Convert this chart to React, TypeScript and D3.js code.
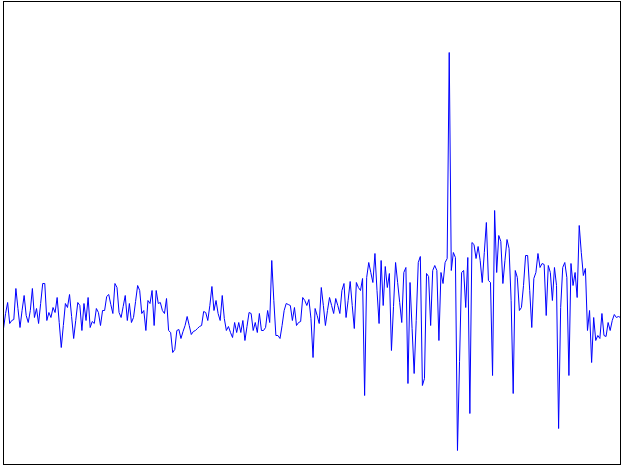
import { useEffect, useRef } from 'react';
import * as d3 from 'd3';

// signal values, one per sample
const signal: number[] = [
  -0.8, 0.7, 1.8, -0.3, 0.0, 0.1, 3.2, 1.2, -0.7, 1.0,
  2.5, 0.5, -0.2, 1.0, 3.2, 0.3, 1.2, -0.3, 1.7, 3.7,
  3.7, 0.0, 0.8, 0.3, 1.3, 0.8, 2.3, -0.2, -2.7, -0.5,
  1.7, 1.3, 2.6, 0.4, -1.8, 0.0, 1.8, 1.5, -1.0, 1.7,
  0.0, 2.3, -0.7, -0.1, -0.3, 1.2, 0.8, -0.5, 1.0, 1.0,
  2.4, 2.6, 1.6, 0.7, 3.7, 3.3, 0.8, 0.3, 1.4, 2.5,
  0.0, 1.7, -0.2, 0.3, 1.9, 3.5, 3.0, 0.7, 1.0, -1.0,
  2.0, 1.7, 3.0, -0.5, 3.0, 1.7, 1.8, 1.0, 0.7, 2.2,
  -1.0, -1.2, -3.2, -2.9, -1.0, -0.9, -1.8, -1.1, -0.5, 0.4,
  -0.5, -1.4, -1.1, -1.0, -0.8, -0.6, -0.5, 0.9, 0.8, 0.0,
  1.5, 3.4, 1.0, 2.0, 0.7, 0.0, 2.5, 0.2, -1.0, -0.6,
  -1.2, -1.7, -0.2, -1.2, -0.2, -1.2, 0.0, -2.0, -0.6, 0.8,
  0.7, -1.0, -0.2, -1.2, 0.7, -1.0, -1.0, -0.7, 1.0, -0.2,
  6.0, 2.0, -1.5, -1.5, -1.8, -0.5, 1.0, 1.7, 1.6, 1.5,
  0.0, 1.3, -0.5, -0.2, -0.1, 2.3, 2.0, 1.5, 2.1, 0.2,
  -3.7, 1.2, 0.5, -0.3, 3.3, 1.5, -0.5, 1.0, 2.3, 1.5,
  0.7, 2.2, 1.5, 0.7, 3.0, 3.7, 0.3, 2.0, 3.9, 1.5,
  -0.8, 3.8, 3.3, 3.0, 4.2, -7.5, 4.3, 5.8, 4.8, 3.8,
  6.7, 3.0, -0.3, 6.0, 1.5, 5.4, 3.3, 4.7, -3.0, 1.4,
  5.8, 3.8, 1.8, -0.2, 4.8, 5.3, -6.3, 3.8, -0.8, -5.3,
  0.0, 5.8, 6.4, -6.5, -5.8, 4.7, 4.4, -0.5, 5.0, 5.5,
  5.0, -2.0, 4.8, 3.7, 5.8, 6.2, 26.8, 5.0, 6.8, 6.3,
  -13.0, -4.1, 4.8, 5.0, 1.3, 6.3, -9.3, 7.8, 7.6, 6.2,
  7.4, 6.0, 3.8, 6.8, 9.8, 4.0, 3.8, -5.5, 11.0, 4.8,
  8.5, 7.9, 3.7, 6.0, 8.1, 7.2, 2.0, -7.3, 5.0, 4.3,
  1.0, 1.3, 3.5, 6.5, 6.5, 3.0, -0.7, 4.2, 4.8, 6.7,
  5.3, 5.7, 5.6, 0.5, 5.5, 4.8, 2.0, 5.3, 3.5, -10.8,
  1.3, 5.3, 5.8, 4.3, -5.5, 5.7, 3.5, 4.8, 2.3, 9.5,
  6.8, 4.5, 5.2, -1.0, 1.0, -4.2, 0.3, -2.0, -1.5, -1.8,
  0.7, -1.5, -1.6, -0.2, -1.0, 0.0, 0.6, 0.3, 0.4, 0.3,
];

const yLimits: [number, number] = [-14.4, 31.9];

function App() {
  const svgRef = useRef<SVGSVGElement>(null);

  useEffect(() => {
    const width = 623;
    const height = 467;
    const frame = { left: 3.5, right: 620.5, top: 1.5, bottom: 464.5 };

    const svg = d3.select(svgRef.current);
    svg.selectAll('*').remove();
    svg.attr('width', width).attr('height', height);

    const x = d3.scaleLinear()
      .domain([0, signal.length - 1])
      .range([frame.left, frame.right]);

    const y = d3.scaleLinear()
      .domain(yLimits)
      .range([frame.bottom, frame.top]);

    const line = d3.line<number>()
      .x((_, i) => x(i))
      .y(d => y(d));

    svg.append('path')
      .datum(signal)
      .attr('fill', 'none')
      .attr('stroke', '#0000ff')
      .attr('stroke-width', 1)
      .attr('stroke-linejoin', 'round')
      .attr('d', line);

    // axes frame
    svg.append('rect')
      .attr('x', frame.left)
      .attr('y', frame.top)
      .attr('width', frame.right - frame.left)
      .attr('height', frame.bottom - frame.top)
      .attr('fill', 'none')
      .attr('stroke', '#000')
      .attr('stroke-width', 1);
  }, []);

  return (
    <div style={{ position: 'absolute', left: 0, top: 0, background: '#fff' }}>
      <svg ref={svgRef} style={{ display: 'block' }}></svg>
    </div>
  );
}

export default App;
